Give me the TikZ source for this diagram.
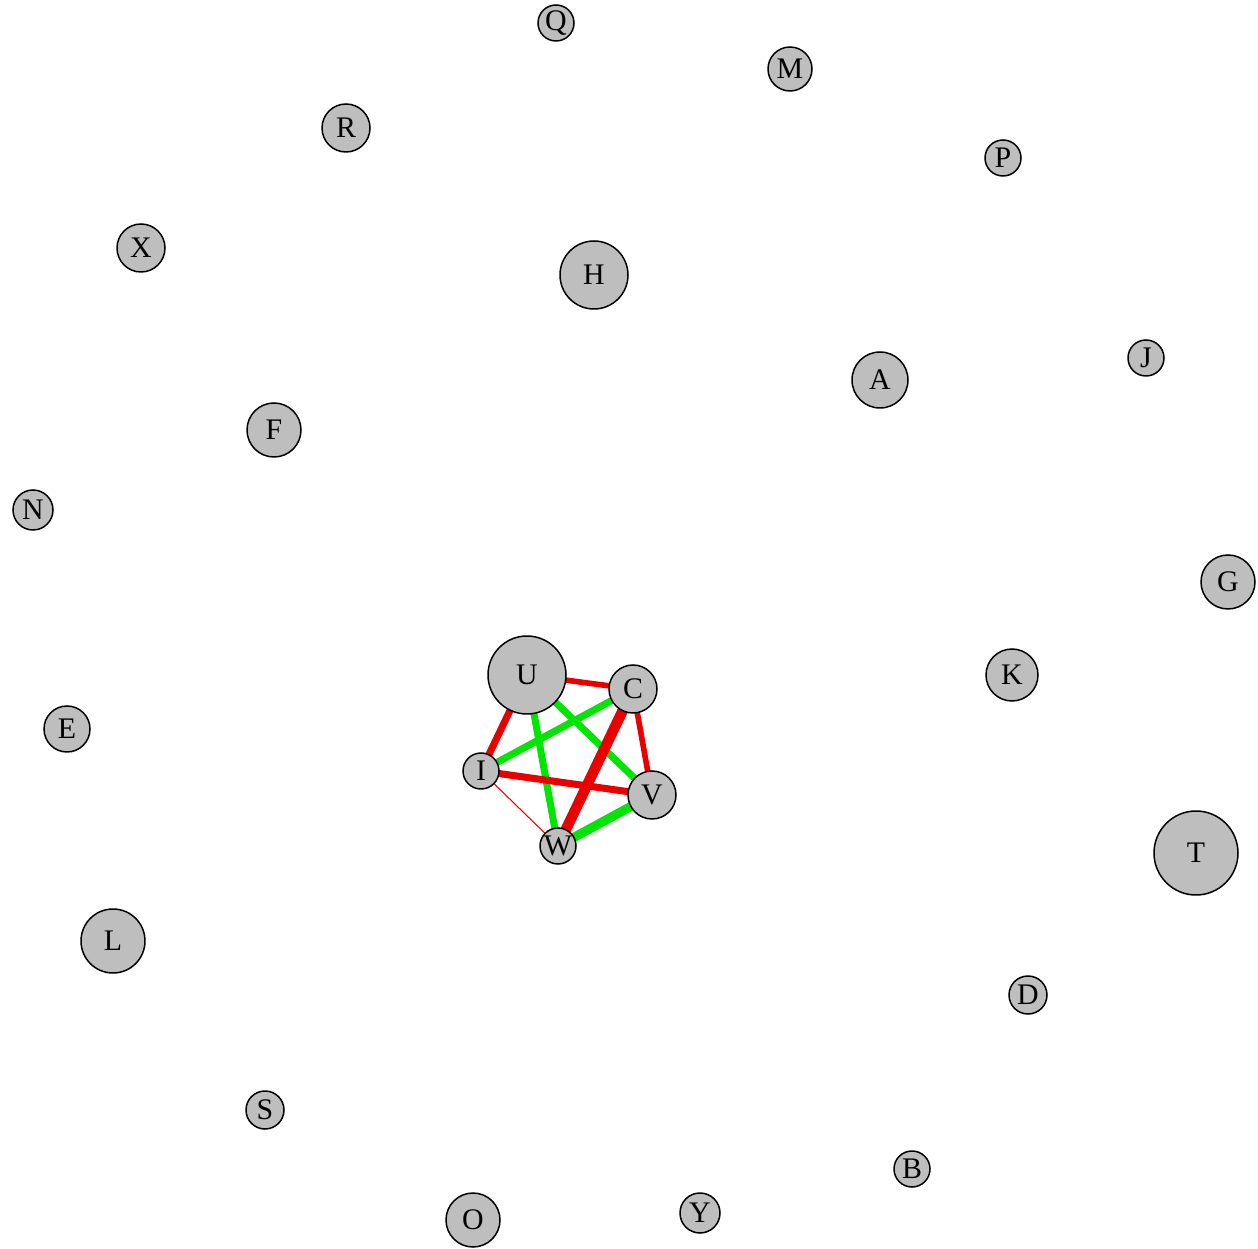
\documentclass[tikz,border=0pt]{standalone}
\usepackage{fontspec}
\setmainfont{Liberation Serif}
\usetikzlibrary{backgrounds}
\definecolor{vgray}{RGB}{190,190,190}
\definecolor{posgreen}{RGB}{0,230,0}
\definecolor{negred}{RGB}{235,0,0}
\tikzset{
  vtx/.style={circle, draw=black, line width=0.85pt, fill=vgray, inner sep=0pt,
    font=\fontsize{17}{19}\selectfont},
  pos/.style={draw=posgreen, line width=#1},
  neg/.style={draw=negred, line width=#1}
}
\begin{document}
\begin{tikzpicture}
  \useasboundingbox (0,0) rectangle (25.16,-24.98);
  % vertices
  \node[vtx, minimum size=0.72cm] (Q) at (11.12,-0.46) {Q};
  \node[vtx, minimum size=0.88cm] (M) at (15.80,-1.38) {M};
  \node[vtx, minimum size=0.96cm] (R) at (6.92,-2.56) {R};
  \node[vtx, minimum size=0.72cm] (P) at (20.06,-3.16) {P};
  \node[vtx, minimum size=0.96cm] (X) at (2.82,-4.96) {X};
  \node[vtx, minimum size=1.36cm] (H) at (11.88,-5.50) {H};
  \node[vtx, minimum size=0.72cm] (J) at (22.92,-7.16) {J};
  \node[vtx, minimum size=1.12cm] (A) at (17.60,-7.60) {A};
  \node[vtx, minimum size=1.08cm] (F) at (5.48,-8.60) {F};
  \node[vtx, minimum size=0.80cm] (N) at (0.66,-10.20) {N};
  \node[vtx, minimum size=1.08cm] (G) at (24.56,-11.64) {G};
  \node[vtx, minimum size=1.56cm] (U) at (10.54,-13.50) {U};
  \node[vtx, minimum size=0.96cm] (C) at (12.66,-13.78) {C};
  \node[vtx, minimum size=1.04cm] (K) at (20.24,-13.50) {K};
  \node[vtx, minimum size=0.92cm] (E) at (1.34,-14.58) {E};
  \node[vtx, minimum size=0.72cm] (I) at (9.62,-15.42) {I};
  \node[vtx, minimum size=0.96cm] (V) at (13.04,-15.90) {V};
  \node[vtx, minimum size=0.72cm] (W) at (11.16,-16.92) {W};
  \node[vtx, minimum size=1.68cm] (T) at (23.92,-17.06) {T};
  \node[vtx, minimum size=1.28cm] (L) at (2.26,-18.82) {L};
  \node[vtx, minimum size=0.76cm] (D) at (20.56,-19.90) {D};
  \node[vtx, minimum size=0.76cm] (S) at (5.30,-22.20) {S};
  \node[vtx, minimum size=0.72cm] (B) at (18.24,-23.38) {B};
  \node[vtx, minimum size=0.80cm] (Y) at (14.00,-24.26) {Y};
  \node[vtx, minimum size=1.08cm] (O) at (9.46,-24.40) {O};
  % edges
  \begin{pgfonlayer}{background}
    \draw[neg=3.2pt] (U.center) -- (C.center);
    \draw[neg=4.0pt] (U.center) -- (I.center);
    \draw[pos=4.0pt] (U.center) -- (W.center);
    \draw[pos=4.0pt] (U.center) -- (V.center);
    \draw[pos=4.0pt] (C.center) -- (I.center);
    \draw[neg=6.0pt] (C.center) -- (W.center);
    \draw[neg=3.2pt] (C.center) -- (V.center);
    \draw[neg=4.0pt] (I.center) -- (V.center);
    \draw[neg=0.6pt] (I.center) -- (W.center);
    \draw[pos=5.2pt] (V.center) -- (W.center);
  \end{pgfonlayer}
\end{tikzpicture}
\end{document}
